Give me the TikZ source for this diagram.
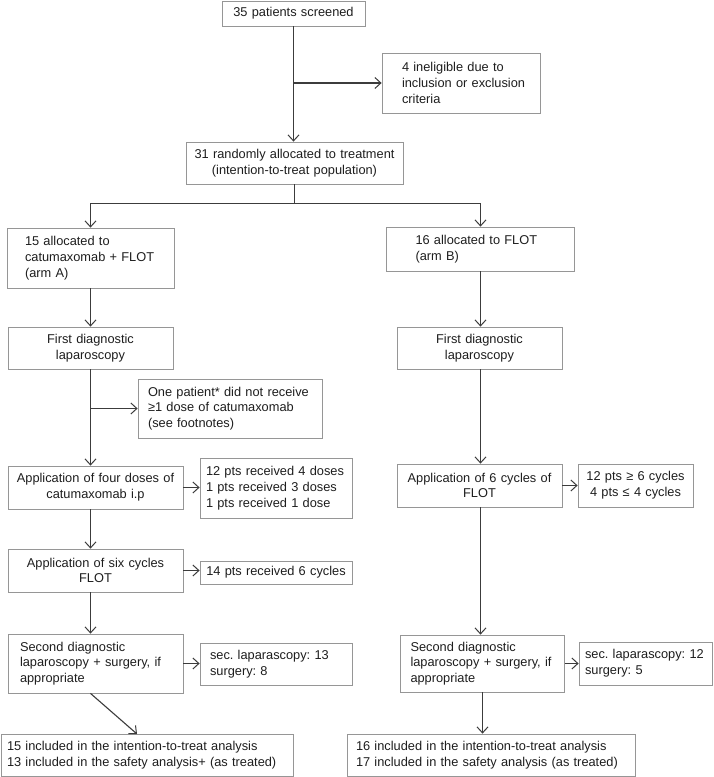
\documentclass[tikz,border=0pt]{standalone}
\usepackage{fontspec}
\setmainfont{Liberation Sans}
\usetikzlibrary{arrows.meta}
\definecolor{linec}{RGB}{60,60,60}
\definecolor{boxc}{RGB}{150,150,150}
\definecolor{txtc}{RGB}{30,30,30}
\newcommand{\ml}[1]{\mbox{#1}}
\frenchspacing
\begin{document}
\begin{tikzpicture}[x=1pt,y=-1pt,
  box/.style={draw=boxc, line width=0.8pt, inner ysep=0pt, text=txtc,
    font=\fontsize{12.8}{15.7}\selectfont\frenchspacing},
  cbox/.style={box, align=center},
  lbox/.style={box, align=left},
  arr/.style={draw=linec, line width=1.1pt, -{Straight Barb[length=6pt,width=11pt,line width=1pt]}},
  ln/.style={draw=linec, line width=1.1pt}]
\useasboundingbox[fill=white] (0,0) rectangle (713,777);

% top
\node[cbox, minimum width=143pt, minimum height=25pt, inner xsep=4pt, text width=135pt] (scr) at (293.5,13.5) {35 patients screened};
\node[lbox, minimum width=158pt, minimum height=60pt, inner xsep=20pt, text width=118pt] (inel) at (461,83)
  {\ml{4 ineligible due to}\\\ml{inclusion or exclusion}\\\ml{criteria}};
\node[cbox, minimum width=217pt, minimum height=42pt, inner xsep=4pt, text width=209pt] (rand) at (294.5,163)
  {\ml{31 randomly allocated to treatment}\\\ml{(intention-to-treat population)}};

% arm A
\node[lbox, minimum width=167pt, minimum height=60pt, inner xsep=18pt, text width=131pt] (armA) at (90.5,258)
  {\ml{15 allocated to}\\\ml{catumaxomab + FLOT}\\\ml{(arm A)}};
\node[cbox, minimum width=165pt, minimum height=42pt, inner xsep=4pt, text width=157pt] (fdA) at (90.5,348)
  {First diagnostic\\laparoscopy};
\node[lbox, minimum width=184pt, minimum height=59pt, inner xsep=10pt, text width=164pt] (onep) at (230,408.5)
  {\ml{One patient* did not receive}\\\ml{≥1 dose of catumaxomab}\\\ml{(see footnotes)}};
\node[cbox, minimum width=175pt, minimum height=43pt, inner xsep=4pt, text width=167pt] (appA) at (95.5,487.5)
  {\ml{Application of four doses of}\\\ml{catumaxomab i.p}};
\node[lbox, minimum width=152pt, minimum height=60pt, inner xsep=6pt, text width=140pt] (dosA) at (276,488)
  {\ml{12 pts received 4 doses}\\\ml{1 pts received 3 doses}\\\ml{1 pts received 1 dose}};
\node[cbox, minimum width=175pt, minimum height=43pt, inner xsep=4pt, text width=167pt] (sixA) at (95.5,570.5)
  {\ml{Application of six cycles}\\FLOT};
\node[cbox, minimum width=152pt, minimum height=23pt, inner xsep=4pt, text width=144pt] (cycA) at (276,572.5)
  {\ml{14 pts received 6 cycles}};
\node[lbox, minimum width=175pt, minimum height=59pt, inner xsep=12pt, text width=151pt] (secA) at (95.5,663.5)
  {\ml{Second diagnostic}\\\ml{laparoscopy + surgery, if}\\\ml{appropriate}};
\node[lbox, minimum width=152pt, minimum height=42pt, inner xsep=10pt, text width=132pt] (lapA) at (276,664)
  {\ml{sec. laparascopy: 13}\\\ml{surgery: 8}};
\node[lbox, minimum width=292pt, minimum height=42pt, inner xsep=6pt, text width=280pt] (botA) at (147,755)
  {\ml{15 included in the intention-to-treat analysis}\\\ml{13 included in the safety analysis+ (as treated)}};

% arm B
\node[lbox, minimum width=188pt, minimum height=44pt, inner xsep=29pt, text width=130pt] (armB) at (480.5,249)
  {\ml{16 allocated to FLOT}\\\ml{(arm B)}};
\node[cbox, minimum width=165pt, minimum height=42pt, inner xsep=4pt, text width=157pt] (fdB) at (479.5,348)
  {First diagnostic\\laparoscopy};
\node[cbox, minimum width=165pt, minimum height=43pt, inner xsep=4pt, text width=157pt] (appB) at (479.5,485.5)
  {\ml{Application of 6 cycles of}\\FLOT};
\node[cbox, minimum width=115pt, minimum height=43pt, inner xsep=4pt, text width=107pt] (cycB) at (635.5,485.5)
  {\ml{12 pts ≥ 6 cycles}\\\ml{4 pts ≤ 4 cycles}};
\node[lbox, minimum width=164pt, minimum height=57pt, inner xsep=10pt, text width=144pt] (secB) at (482.5,663.5)
  {\ml{Second diagnostic}\\\ml{laparoscopy + surgery, if}\\\ml{appropriate}};
\node[lbox, minimum width=133pt, minimum height=43pt, inner xsep=6pt, text width=121pt] (lapB) at (645.5,663.5)
  {\ml{sec. laparascopy: 12}\\\ml{surgery: 5}};
\node[lbox, minimum width=288pt, minimum height=42pt, inner xsep=9pt, text width=270pt] (botB) at (491,755)
  {\ml{16 included in the intention-to-treat analysis}\\\ml{17 included in the safety analysis (as treated)}};

% connectors top
\draw[arr] (scr.south) -- (scr.south |- rand.north);
\draw[arr] (scr.south |- inel.west) -- (inel.west);
\coordinate (split) at (294.5,203.5);
\draw[ln] (rand.south) -- (split);
\draw[arr] (split) -| (armA.north);
\draw[arr] (split) -| (armB.north);

% arm A connectors
\draw[arr] (armA.south) -- (fdA.north);
\draw[arr] (fdA.south) -- (fdA.south |- appA.north);
\draw[arr] (fdA.south |- onep.west) -- (onep.west);
\draw[arr] (fdA.south |- appA.south) -- (fdA.south |- sixA.north);
\draw[arr] (appA.east) -- (dosA.west |- appA.east);
\draw[arr] (sixA.east) -- (cycA.west |- sixA.east);
\draw[arr] (fdA.south |- sixA.south) -- (fdA.south |- secA.north);
\draw[arr] (secA.east) -- (lapA.west |- secA.east);
\coordinate (dA) at (137,734);
\draw[arr] (fdA.south |- secA.south) -- (dA);

% arm B connectors
\draw[arr] (armB.south) -- (armB.south |- fdB.north);
\draw[arr] (armB.south |- fdB.south) -- (armB.south |- appB.north);
\draw[arr] (appB.east) -- (cycB.west |- appB.east);
\draw[arr] (armB.south |- appB.south) -- (armB.south |- secB.north);
\draw[arr] (secB.east) -- (lapB.west |- secB.east);
\draw[arr] (secB.south) -- (secB.south |- botB.north);
\end{tikzpicture}
\end{document}
